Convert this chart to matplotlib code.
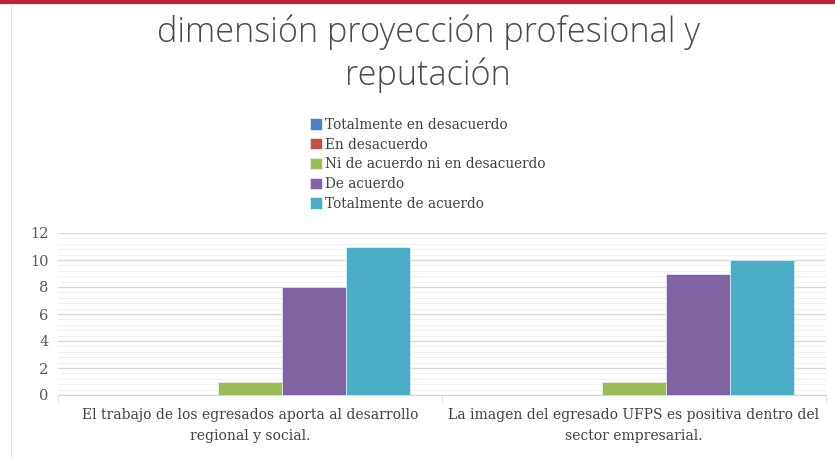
import numpy as np
import matplotlib
matplotlib.use("Agg")
import matplotlib.pyplot as plt
from matplotlib.lines import Line2D
from matplotlib.ticker import MultipleLocator

# data
categories = ["El trabajo de los egresados aporta al desarrollo\nregional y social.",
              "La imagen del egresado UFPS es positiva dentro del\nsector empresarial."]
series_names = ["Totalmente en desacuerdo", "En desacuerdo",
                "Ni de acuerdo ni en desacuerdo", "De acuerdo", "Totalmente de acuerdo"]
totalmente_desacuerdo = [0, 0]
en_desacuerdo = [0, 0]
ni_ni = [1, 1]
de_acuerdo = [8, 9]
totalmente_acuerdo = [11, 10]
colors = ["#4F81BD", "#C0504D", "#9BBB59", "#8064A2", "#4BACC6"]

series = [totalmente_desacuerdo, en_desacuerdo, ni_ni, de_acuerdo, totalmente_acuerdo]

fig = plt.figure(figsize=(8.35, 4.59), dpi=100)
ax = fig.add_axes([58/835, 1-395/459, (826-58)/835, (395-233)/459])

x = np.arange(len(categories))
w = 1/6
for i, (vals, name, c) in enumerate(zip(series, series_names, colors)):
    ax.bar(x + (i-2)*w, vals, w, color=c, label=name, zorder=3,
           edgecolor="#ffffff", linewidth=0.4)

ax.set_xlim(-0.5, 1.5)
ax.set_ylim(0, 12)
ax.yaxis.set_major_locator(MultipleLocator(2))
ax.yaxis.set_minor_locator(MultipleLocator(0.4))
ax.grid(axis="y", which="major", color="#d9d9d9", linewidth=1.0, zorder=0)
ax.grid(axis="y", which="minor", color="#f0f0f0", linewidth=0.8, zorder=0)
for s in ["left", "right", "top"]:
    ax.spines[s].set_visible(False)
ax.spines["bottom"].set_color("#d9d9d9")

serif = "DejaVu Serif"
ax.set_xticks(x)
ax.set_xticklabels(categories, fontsize=10, color="#404040", family=serif,
                   linespacing=1.65)
ax.tick_params(axis="x", which="major", length=0, pad=9)
ax.set_xticks([-0.5, 0.5, 1.5], minor=True)
ax.tick_params(axis="x", which="minor", length=5, color="#d9d9d9")
ax.tick_params(axis="y", which="both", length=0, labelsize=10.5, labelcolor="#595959", pad=7)
for lab in ax.get_yticklabels():
    lab.set_family(serif)

fig.text(0.513, 1-32/459, "dimensión proyección profesional y", ha="center", va="center",
         fontsize=24.7, color="#4a4a4a", family="Open Sans", fontweight="light")
fig.text(0.513, 1-75/459, "reputación", ha="center", va="center",
         fontsize=24.7, color="#4a4a4a", family="Open Sans", fontweight="light")

leg = fig.legend(loc="upper left", bbox_to_anchor=(303/835, 1-111/459), frameon=False,
                 handlelength=0.9, handleheight=0.9, handletextpad=0.25,
                 labelspacing=0.42, borderpad=0, prop={"family": serif, "size": 9.8})
for t in leg.get_texts():
    t.set_color("#404040")

# decorative border bits from the screenshot
fig.add_artist(Line2D([0, 1], [1-1.5/459, 1-1.5/459], color="#C0203A", linewidth=3))
fig.add_artist(Line2D([11/835, 11/835], [0, 1-4/459], color="#e6e6e6", linewidth=0.8))

fig.savefig("out.png", dpi=100)
